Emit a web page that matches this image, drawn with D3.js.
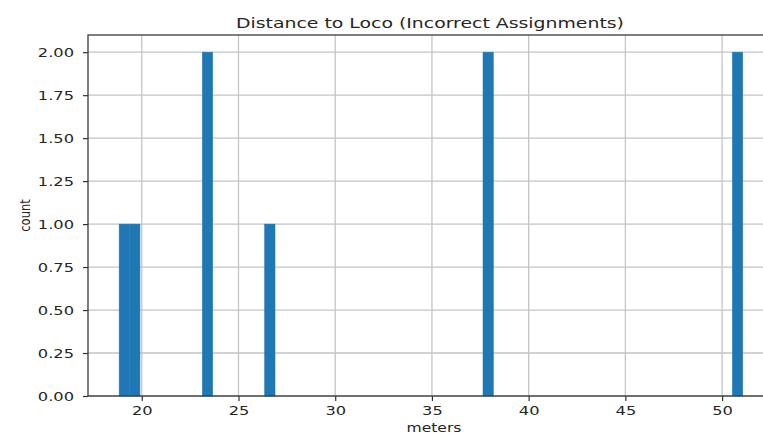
<!DOCTYPE html>
<html>
<head>
<meta charset="utf-8">
<script src="https://cdn.jsdelivr.net/npm/d3@7"></script>
<style>
  html, body { margin: 0; padding: 0; background: #fff; }
  svg { display: block; font-family: "DejaVu Sans", sans-serif; }
</style>
</head>
<body>
<svg id="chart" width="763" height="438"></svg>
<script>
// ---- data (histogram of distances, 60 bins between 18.83 and 51.07 m) ----
const binStarts = [18.83, 19.37, 23.13, 26.35, 37.64, 50.53];
const binCounts = [1, 1, 2, 1, 2, 2];
const binWidth = 0.5373;
const xTicks = [20, 25, 30, 35, 40, 45, 50];
const yTicks = [0, 0.25, 0.5, 0.75, 1.0, 1.25, 1.5, 1.75, 2.0];
const titleText = "Distance to Loco (Incorrect Assignments)";
const xLabel = "meters";
const yLabel = "count";

const STRETCH = 1.3; // reference image is horizontally stretched

const svg = d3.select("#chart");
const L = 88, R = 772, T = 35, B = 396;

const x = d3.scaleLinear().domain([17.22, 52.58]).range([L, R]);
const y = d3.scaleLinear().domain([0, 2.1]).range([B, T]);

svg.append("rect").attr("width", 763).attr("height", 438).attr("fill", "#fff");

// grid
const grid = svg.append("g").attr("stroke", "#c4c4c4").attr("stroke-width", 1.3);
grid.selectAll("line.v").data(xTicks).join("line")
  .attr("x1", d => x(d)).attr("x2", d => x(d)).attr("y1", T).attr("y2", B);
grid.selectAll("line.h").data(yTicks).join("line")
  .attr("x1", L).attr("x2", R).attr("y1", d => y(d)).attr("y2", d => y(d));

// bars
svg.append("g").selectAll("rect").data(binStarts.map((s, i) => ({s, c: binCounts[i]}))).join("rect")
  .attr("x", d => x(d.s))
  .attr("width", d => x(d.s + binWidth) - x(d.s))
  .attr("y", d => y(d.c))
  .attr("height", d => y(0) - y(d.c))
  .attr("fill", "#1f77b4")
  .attr("stroke", "#1f77b4").attr("stroke-width", 0.5);

// axes
const xAxis = d3.axisBottom(x).tickValues(xTicks).tickSize(5).tickPadding(5).tickFormat(d3.format("d"));
const yAxis = d3.axisLeft(y).tickValues(yTicks).tickSize(5).tickPadding(9).tickFormat(d3.format(".2f"));

const gx = svg.append("g").attr("transform", `translate(0,${B})`).call(xAxis);
const gy = svg.append("g").attr("transform", `translate(${L},0)`).call(yAxis);
[gx, gy].forEach(g => {
  g.select(".domain").remove();
  g.selectAll(".tick line").attr("stroke", "#333").attr("stroke-width", 1.2);
  g.selectAll(".tick text").attr("fill", "#262626").attr("font-size", 12.5)
    .attr("font-family", "DejaVu Sans, sans-serif");
});
gx.selectAll(".tick text").attr("dy", "0.71em");

// spines (right spine falls outside the image)
svg.append("rect").attr("x", L).attr("y", T).attr("width", R - L).attr("height", B - T)
  .attr("fill", "none").attr("stroke", "#3a3a3a").attr("stroke-width", 1.3);

// title and labels
svg.append("text").attr("class", "stretch").attr("x", 430).attr("y", 28)
  .attr("text-anchor", "middle").attr("font-size", 14.5).attr("fill", "#262626").text(titleText);
svg.append("text").attr("class", "stretch").attr("x", 434).attr("y", 432)
  .attr("text-anchor", "middle").attr("font-size", 12).attr("fill", "#262626").text(xLabel);
svg.append("text")
  .attr("transform", `translate(30,215.5) scale(${STRETCH},1) rotate(-90)`)
  .attr("text-anchor", "middle").attr("font-size", 11.5).attr("fill", "#262626").text(yLabel);

// horizontal stretch of horizontal texts
svg.selectAll(".tick text, text.stretch").each(function() {
  const w = this.getComputedTextLength();
  d3.select(this).attr("textLength", w * STRETCH).attr("lengthAdjust", "spacingAndGlyphs");
});
</script>
</body>
</html>
